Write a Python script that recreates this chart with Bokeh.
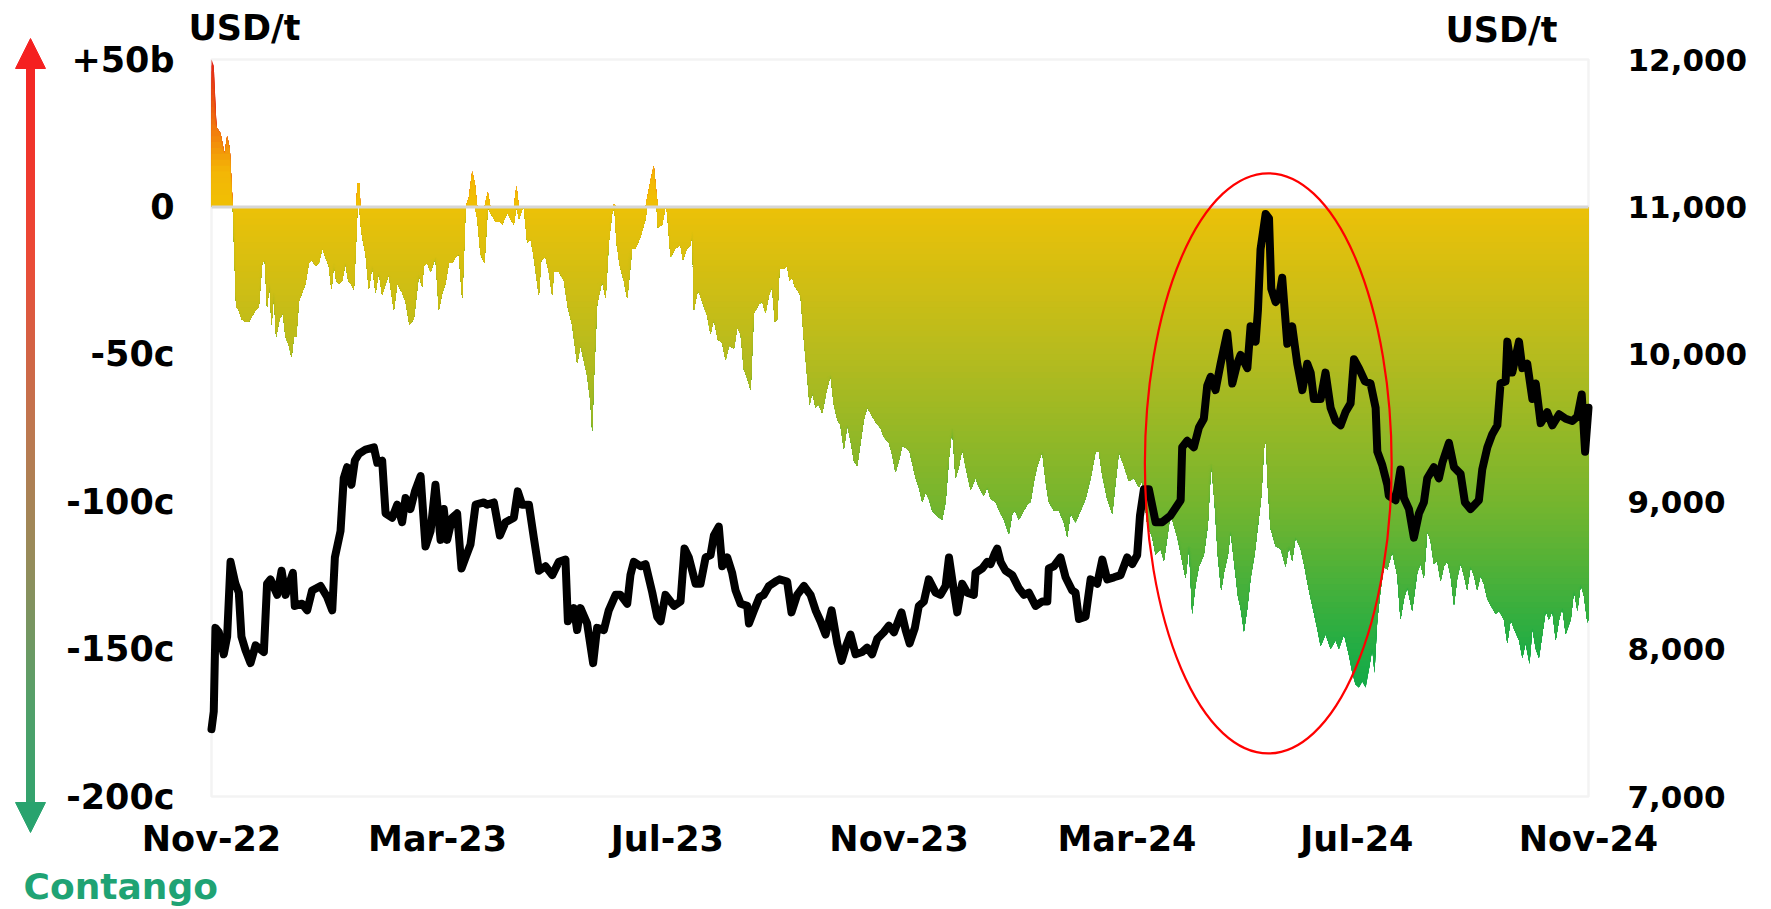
import numpy as np
import pandas as pd
from bokeh.plotting import figure
from bokeh.models import (Range1d, LinearAxis, FixedTicker, DatetimeTickFormatter,
                          BoxAnnotation, Label, Arrow, NormalHead)
from bokeh.embed import file_html
from bokeh.resources import INLINE

# ---------------------------------------------------------------- data
# Day offsets are counted from 1 Nov 2022.
START = pd.Timestamp("2022-11-01")
END = pd.Timestamp("2024-11-01")

# LME cash-to-3-month spread (cents; + backwardation, - contango)
spread_days = [
    0, 1.2, 2.7, 4.8, 6.9, 8.3, 9.7, 11.3,
    13.1, 14.5, 15.9, 18.0, 19.8, 21.6, 23.4, 25.1, 26.9, 28.3, 29.5, 30.8, 31.9, 33.1, 34.3, 36.1,
    37.9, 39.3, 41.1, 42.5, 43.7, 45.0, 46.4, 48.1, 49.9, 51.7, 53.4, 55.2, 57.0, 58.8, 60.5, 62.3,
    63.7, 65.0, 66.2, 67.6, 69.4, 71.1, 72.6, 74.0, 75.6, 76.8, 77.5, 78.6, 79.0, 80.0, 81.8, 83.5,
    85.3, 87.1, 88.8, 90.6, 92.4, 94.1, 95.9, 96.8, 98.6, 101.2, 103.0, 105.1, 107.4, 110.1, 111.8,
    112.7, 114.5, 116.3, 118.9, 120.7, 122.5, 124.2, 126.0, 127.8, 129.6, 131.3, 133.1, 134.0, 134.9,
    136.6, 138.4, 139.8, 141.1, 142.8, 144.9,
    146.7, 148.1, 150.8, 153.4, 154.3, 157.0, 159.6, 160.5, 161.9, 163.2, 164.9, 165.8, 167.6, 169.4,
    171.1, 173.8, 175.0, 177.3, 179.1, 180.9, 181.7, 184.4, 187.1, 189.2, 191.5, 194.1, 195.9, 199.4,
    201.2, 202.1, 203.0, 204.7, 207.4, 209.2, 210.9, 212.7, 213.9, 215.0, 216.8, 218.9, 220.7, 223.3,
    225.1, 227.8, 230.4, 231.3, 233.1, 234.8, 236.3, 237.0, 239.3, 241.0, 241.9, 243.7, 246.3, 249.0,
    250.2, 252.5, 254.3, 255.2, 256.1, 258.2, 260.5, 263.2, 264.9, 266.7, 268.8, 271.1, 272.9, 274.7,
    277.3, 279.1, 280.9, 282.6, 284.4, 286.2, 287.9,
    290.6, 292.3, 294.1, 295.9, 297.6, 299.1, 300.3, 301.5, 303.8, 305.6, 306.9, 308.3, 309.7, 310.9,
    312.7, 314.5, 316.2, 317.5, 318.9, 320.7, 322.4, 324.2, 326.3, 328.6, 330.4, 332.2, 333.9, 335.7,
    337.5, 339.2, 341.0, 342.8, 344.5, 346.3, 348.1, 349.9, 352.5, 355.2, 356.9, 359.6, 361.4, 363.1,
    364.9, 366.7, 369.3, 370.6, 373.8, 375.5, 377.3, 379.1, 380.8, 382.6, 385.3, 387.9, 389.7, 391.5,
    393.2, 395.0, 396.8, 398.5, 400.3, 403.0, 405.6, 407.4, 410.0, 411.8, 413.6, 416.2, 418.9, 420.7,
    423.3, 425.1, 426.5, 428.6, 430.4, 433.0, 434.8,
    436.6, 438.3, 441.0, 442.8, 444.5, 447.2, 449.8, 452.5, 454.3, 456.0, 458.7, 461.4, 464.0, 466.7,
    469.3, 471.1, 472.9, 475.5, 478.2, 480.0, 481.7, 484.4, 487.0, 489.7, 492.3, 494.1, 496.8, 499.4,
    501.2, 503.8, 505.6, 507.4, 509.1, 510.9, 512.7, 515.3, 517.1, 518.9, 520.6, 522.4, 524.2, 526.8,
    528.9, 530.7, 532.5, 534.2, 536.0, 537.5, 539.6, 541.0, 542.8, 544.9, 546.3, 548.1, 549.9, 551.6,
    553.7, 556.1, 557.3, 558.7, 559.8, 560.8, 562.2, 564.9, 567.6, 570.2, 572.0, 573.7, 575.5, 578.2,
    579.9,
    582.6, 584.3, 587.0, 588.8, 591.4, 594.1, 596.7, 598.5, 601.2, 603.8, 605.6, 607.3, 609.1, 610.9,
    612.7, 614.4, 616.2, 617.4, 618.9, 620.6, 622.4, 624.2, 626.8, 629.5, 631.2, 633.0, 634.8, 637.4,
    640.1, 641.8, 643.6, 645.4, 647.1, 648.9, 650.7, 652.5, 654.2, 656.0, 657.8, 659.6, 661.3, 663.1,
    664.9, 666.6, 668.4, 670.2, 671.9, 673.7, 675.5, 677.3, 679.0, 681.7, 683.5, 686.1, 687.9, 689.7,
    691.4, 694.1, 695.9, 697.6, 699.7, 701.2, 703.0, 704.7, 706.5, 708.3, 710.0, 711.8, 713.6, 715.4,
    717.1, 718.9, 721.6, 723.3, 725.1, 726.9, 728.6, 730.4, 731.0,
]
spread_cents = [
    50, 48, 27, 25, 18, 24, 20, 0,
    -34, -35, -38, -39, -39, -37, -35, -34, -19, -18, -34, -26, -40, -29, -44, -38,
    -36, -44, -47, -51, -44, -44, -32, -29, -26, -19, -18, -20, -19, -14, -17, -20,
    -28, -19, -25, -26, -25, -19, -25, -26, -28, -11, 8, 8, -5, -10, -16, -28,
    -20, -29, -22, -30, -26, -23, -31, -35, -26, -29, -32, -40, -38, -23, -27,
    -20, -19, -22, -17, -35, -29, -26, -19, -19, -17, -16, -31, -16, 0,
    3, 12, 8, -4, -16, -19,
    5, -2, -5, -5, -6, -2, -5, -6, 7, -4, -1, 0, -12, -11,
    -17, -30, -18, -17, -22, -30, -22, -22, -25, -34, -40, -53, -47, -57,
    -66, -76, -58, -33, -25, -31, -12, -2, 1, -12, -20, -25, -31, -14,
    -14, -10, -4, 3, 9, 14, 4, -7, -6, 0, -2, -17, -14, -13,
    -18, -14, -13, -8, -35, -28, -32, -37, -43, -38, -45, -46, -52, -47,
    -48, -41, -43, -55, -58, -62, -36,
    -33, -32, -36, -30, -27, -39, -38, -21, -21, -20, -25, -24, -27, -28,
    -30, -45, -57, -67, -63, -68, -67, -70, -63, -57, -67, -72, -74, -82,
    -74, -79, -86, -88, -80, -72, -68, -70, -73, -75, -78, -80, -84, -90,
    -86, -81, -82, -83, -92, -95, -100, -97, -99, -103, -105, -106, -100, -85,
    -75, -92, -88, -82, -88, -96, -92, -95, -98, -95, -99, -100, -104, -106,
    -111, -104, -103, -106, -104, -101, -100,
    -93, -88, -83, -93, -100, -103, -103, -107, -112, -104, -107, -103, -99, -92,
    -83, -83, -91, -99, -104, -93, -83, -88, -93, -92, -95, -93, -108, -112,
    -118, -116, -120, -112, -104, -108, -112, -120, -126, -115, -138, -128, -122, -118,
    -108, -87, -100, -118, -130, -124, -118, -110, -120, -132, -136, -144, -136, -126,
    -118, -105, -98, -82, -79, -95, -109, -115, -116, -122, -115, -120, -112, -116,
    -121,
    -130, -135, -143, -149, -145, -150, -147, -150, -145, -152, -158, -162, -163, -161,
    -163, -157, -150, -158, -140, -130, -122, -123, -117, -125, -140, -133, -129, -137,
    -124, -121, -126, -110, -113, -121, -120, -127, -122, -120, -125, -135, -126, -121,
    -125, -130, -122, -125, -130, -125, -128, -133, -135, -138, -137, -140, -148, -140,
    -143, -147, -153, -148, -155, -143, -150, -153, -145, -137, -140, -137, -147, -140,
    -136, -145, -140, -130, -137, -128, -132, -141, -140,
]

# LME 3-month copper price (USD/t)
price_days = [
    0, 1.2, 2.1, 3.9, 6.5, 8.3, 10.1, 12.7, 14.5, 15.9, 18.0, 20.7, 23.4, 27.8, 29.5, 31.3, 34.9,
    37.2, 39.3, 43.2, 44.2, 48.1, 50.8, 53.4, 57.9, 61.4, 64.1, 65.5, 68.5, 70.2, 72.0, 74.3, 76.1,
    78.2, 81.8, 86.2, 88.0, 90.6, 92.4, 95.9, 98.6, 101.2, 103.0, 105.6, 108.0, 111.0, 113.6, 116.3,
    118.9, 121.6, 123.3, 125.1, 127.8, 130.4, 132.7, 134.9, 137.5, 140.2, 144.6,
    146.3, 149.9, 153.1, 156.1, 160.5, 162.6, 164.9, 168.5, 171.1, 173.8, 177.3, 180.9, 184.4, 187.9,
    189.2, 192.4, 194.1, 195.9, 199.4, 202.6, 204.7, 208.3, 210.9, 214.5, 217.1, 220.7, 222.4, 224.2,
    227.8, 230.4, 234.0, 236.6, 238.4, 241.0, 243.7, 245.5, 249.0, 251.1, 253.4, 257.0, 259.6, 262.3,
    264.9, 266.7, 269.3, 271.1, 273.8, 276.4, 278.2, 280.9, 284.4, 285.3, 288.0,
    290.9, 293.2, 295.9, 299.4, 301.5, 305.6, 307.9, 310.9, 314.5, 318.0, 320.7, 323.3, 326.0, 329.2,
    332.2, 334.5, 337.0, 339.2, 341.9, 345.4, 348.1, 350.7, 353.4, 356.9, 359.6, 362.3, 366.3, 368.5,
    370.6, 373.4, 375.5, 378.2, 380.8, 384.4, 387.0, 389.7, 391.5, 393.2, 395.9, 398.5, 401.2, 404.7,
    405.6, 409.2, 411.8, 413.6, 415.9, 417.1, 418.9, 421.5, 425.1, 428.6, 431.3, 433.9,
    437.5, 441.0, 443.7, 444.5, 447.2, 450.7, 453.4, 456.9, 458.7, 460.5, 464.0, 466.7, 470.2, 472.9,
    475.5, 479.1, 482.6, 486.1, 488.8, 491.4, 492.9, 495.0, 497.6, 501.2, 504.7, 509.1, 514.5, 515.3,
    518.0, 521.5, 524.2, 526.8, 528.6, 530.4, 533.0, 535.7, 539.2, 541.9, 544.5, 546.3, 549.9, 551.6,
    554.3, 555.5, 556.9, 559.6, 561.4, 562.6, 564.9, 566.7, 568.4, 571.1, 573.7, 576.4, 579.1,
    581.7, 583.5, 585.2, 588.8, 591.4, 594.1, 596.7, 599.4, 602.0, 604.7, 606.5, 609.1, 612.3, 615.3,
    618.0, 618.9, 621.5, 624.2, 625.0, 628.6, 631.2, 633.0, 635.7, 638.3, 641.0, 643.6, 645.4, 648.9,
    651.6, 653.4, 656.9, 659.6, 663.1, 665.4, 668.4, 672.8, 674.6, 677.3, 679.9, 682.6, 684.3, 687.0,
    687.9, 690.5, 694.1, 695.9, 698.5, 701.2, 703.0, 705.6, 709.1, 711.8, 715.4, 718.9, 722.4, 725.1,
    727.4, 729.2, 731.0,
]
price_usd = [
    7457, 7576, 8144, 8114, 7965, 8084, 8592, 8443, 8383, 8084, 7995, 7905, 8025, 7980, 8443, 8473, 8368,
    8532, 8368, 8517, 8293, 8308, 8263, 8398, 8428, 8353, 8263, 8622, 8801, 9159, 9234, 9115, 9279,
    9324, 9354, 9369, 9264, 9279, 8921, 8891, 8980, 8861, 9025, 8950, 9070, 9174, 8696, 8801,
    9115, 8741, 8950, 8741, 8891, 8921, 8547, 8622, 8711, 8980, 8995,
    8980, 8995, 8771, 8861, 8891, 9070, 8980, 8980, 8756, 8532, 8562, 8502, 8592, 8607,
    8189, 8278, 8129, 8278, 8174, 7905, 8144, 8129, 8263, 8368, 8368, 8308, 8502, 8592,
    8562, 8577, 8383, 8219, 8189, 8368, 8323, 8293, 8323, 8682, 8622, 8443, 8443, 8622,
    8637, 8771, 8831, 8562, 8622, 8517, 8398, 8308, 8293, 8174, 8263,
    8353, 8368, 8428, 8458, 8473, 8458, 8249, 8368, 8428, 8368, 8263, 8189, 8099, 8263,
    8039, 7920, 8025, 8099, 7965, 7980, 8010, 7965, 8069, 8114, 8159, 8114, 8249, 8129,
    8039, 8144, 8293, 8323, 8473, 8383, 8368, 8428, 8622, 8473, 8249, 8443, 8383, 8368,
    8517, 8547, 8592, 8577, 8652, 8682, 8592, 8532, 8502, 8413, 8368, 8383,
    8293, 8323, 8323, 8547, 8562, 8622, 8487, 8398, 8383, 8204, 8219, 8473, 8443, 8607,
    8473, 8487, 8502, 8622, 8577, 8637, 8906, 9085, 9085, 8861, 8861, 8906, 9010, 9369,
    9413, 9369, 9503, 9563, 9787, 9847, 9757, 9936, 10145, 9802, 9936, 9996, 9906, 10190,
    10086, 10295, 10713, 10952, 10922, 10444, 10354, 10384, 10519, 10071, 10190, 9936, 9757,
    9936, 9876, 9697, 9697, 9876, 9637, 9548, 9518, 9608, 9667, 9966, 9906, 9817, 9802,
    9637, 9339, 9249, 9115, 9040, 9010, 9219, 9025, 8950, 8756, 8921, 8995, 9159, 9234,
    9159, 9264, 9399, 9234, 9189, 8995, 8950, 9010, 9219, 9369, 9458, 9518, 9802, 9817,
    10086, 9876, 10086, 9906, 9936, 9697, 9802, 9533, 9608, 9518, 9593, 9563, 9548, 9578,
    9727, 9339, 9637,
]

x_tick_dates = ["2022-11-01", "2023-03-01", "2023-07-01", "2023-11-01",
                "2024-03-01", "2024-07-01", "2024-11-01"]
spread_ticks = [-200, -150, -100, -50, 0, 50]
spread_tick_labels = ["-200c", "-150c", "-100c", "-50c", "0", "+50b"]
price_ticks = [7000, 8000, 9000, 10000, 11000, 12000]
price_tick_labels = ["7,000", "8,000", "9,000", "10,000", "11,000", "12,000"]
SPREAD_MIN, SPREAD_MAX = -200, 50
PRICE_MIN, PRICE_MAX = 7000, 12000

# highlighted period: centre date, centre spread, width (days), height (cents)
HILITE_CENTER = "2024-05-15"
HILITE_Y = -87
HILITE_DAYS = 131
HILITE_HEIGHT = 197

# ---------------------------------------------------------------- layout
# The canvas is one big frame; the plot box sits inside it at these pixel
# edges, so the margin decorations can be drawn without being clipped.
W, H = 1771, 909
BOX_L, BOX_R, BOX_T, BOX_B = 211, 1588, 59, 796
FONT = "DejaVu Sans"
GREY = "#D6D6D6"
MS_PER_DAY = 86400000.0

t0 = START.value / 1e6
t1 = END.value / 1e6
ms_per_px = (t1 - t0) / (BOX_R - BOX_L)
c_per_px = (SPREAD_MAX - SPREAD_MIN) / (BOX_B - BOX_T)
usd_per_px = (PRICE_MAX - PRICE_MIN) / (BOX_B - BOX_T)

x_range = Range1d(t0 - BOX_L * ms_per_px, t1 + (W - BOX_R) * ms_per_px)
y_range = Range1d(SPREAD_MIN - (H - BOX_B) * c_per_px, SPREAD_MAX + BOX_T * c_per_px)
price_range = Range1d(PRICE_MIN - (H - BOX_B) * usd_per_px, PRICE_MAX + BOX_T * usd_per_px)

spread_x = START + pd.to_timedelta(spread_days, unit="D")
price_x = START + pd.to_timedelta(price_days, unit="D")
spread = np.array(spread_cents, dtype=float)

p = figure(width=W, height=H, x_axis_type="datetime",
           x_range=x_range, y_range=y_range,
           output_backend="svg", toolbar_location=None,
           min_border_left=0, min_border_right=0, min_border_top=0, min_border_bottom=0)
p.background_fill_color = "white"
p.border_fill_color = "white"
p.outline_line_color = None
p.xgrid.visible = False
p.ygrid.visible = False

p.extra_y_ranges = {"price": price_range}
right_axis = LinearAxis(y_range_name="price")
p.add_layout(right_axis, "right")


def style_axis(ax, standoff, size):
    ax.axis_line_color = None
    ax.major_tick_line_color = None
    ax.minor_tick_line_color = None
    ax.major_tick_in = 0
    ax.major_tick_out = 0
    ax.minor_tick_out = 0
    ax.major_label_text_font = FONT
    ax.major_label_text_font_style = "bold"
    ax.major_label_text_font_size = size
    ax.major_label_text_color = "black"
    ax.major_label_standoff = standoff


xa = p.xaxis[0]
xa.fixed_location = SPREAD_MIN
xa.ticker = FixedTicker(ticks=[pd.Timestamp(d).value / 1e6 for d in x_tick_dates])
fmt = "%b-%y"
xa.formatter = DatetimeTickFormatter(microseconds=fmt, milliseconds=fmt, seconds=fmt, minsec=fmt,
                                     minutes=fmt, hourmin=fmt, hours=fmt, days=fmt,
                                     months=fmt, years=fmt)
style_axis(xa, 22, "35px")

ya = p.yaxis[0]
ya.fixed_location = t0
ya.ticker = FixedTicker(ticks=spread_ticks)
ya.major_label_overrides = dict(zip(spread_ticks, spread_tick_labels))
style_axis(ya, 37, "35px")

right_axis.fixed_location = t1
right_axis.ticker = FixedTicker(ticks=price_ticks)
right_axis.major_label_overrides = dict(zip(price_ticks, price_tick_labels))
style_axis(right_axis, 39, "31px")


# ---------------------------------------------------------------- spread area, vertical gradient
def interp_color(v, stops):
    vals = [s[0] for s in stops]
    out = [int(round(np.interp(v, vals, [s[1][k] for s in stops]))) for k in range(3)]
    return "#%02x%02x%02x" % tuple(out)


neg_stops = [(-170, (12, 168, 74)), (-150, (34, 173, 68)), (-100, (118, 181, 46)),
             (-50, (182, 187, 30)), (0, (236, 193, 8))]
pos_stops = [(0, (240, 192, 4)), (12, (243, 182, 6)), (25, (242, 128, 12)), (50, (224, 34, 22))]

STEP = 2.0
neg_part = np.minimum(spread, 0)
for level in np.arange(-170, 0, STEP):
    p.varea(x=spread_x, y1=0, y2=np.maximum(neg_part, level),
            fill_color=interp_color(level + STEP / 2, neg_stops), fill_alpha=1)
pos_part = np.maximum(spread, 0)
for level in np.arange(50, 0, -STEP):
    p.varea(x=spread_x, y1=0, y2=np.minimum(pos_part, level),
            fill_color=interp_color(level - STEP / 2, pos_stops), fill_alpha=1)

# zero line and plot box
p.line(x=[START, END], y=[0, 0], line_color=GREY, line_width=3)
p.add_layout(BoxAnnotation(left=t0, right=t1, bottom=SPREAD_MIN, top=SPREAD_MAX,
                           fill_color=None, fill_alpha=0, line_color=GREY, line_width=2.5,
                           level="underlay"))

# ---------------------------------------------------------------- copper price
p.line(price_x, price_usd, y_range_name="price", line_color="black",
       line_width=8, line_join="round", line_cap="round")

# ---------------------------------------------------------------- highlight ellipse
p.ellipse(x=[pd.Timestamp(HILITE_CENTER)], y=[HILITE_Y],
          width=[HILITE_DAYS * MS_PER_DAY], height=[HILITE_HEIGHT],
          fill_color=None, line_color="#FF0000", line_width=2.2)


# ---------------------------------------------------------------- margin decorations
def sx(cx):
    return cx


def sy(cy):
    return H - cy


arrow_stops = [(40, (245, 32, 32)), (260, (235, 75, 55)), (430, (190, 120, 80)),
               (560, (150, 140, 90)), (700, (85, 160, 105)), (832, (40, 163, 110))]
shaft = np.linspace(60, 810, 76)
for a, b in zip(shaft[:-1], shaft[1:]):
    col = interp_color((a + b) / 2, arrow_stops)
    p.add_layout(Arrow(start=None, end=None, x_start=sx(30), y_start=sy(a - 0.6),
                       x_end=sx(30), y_end=sy(b + 0.6), start_units="screen", end_units="screen",
                       line_color=col, line_width=9, line_cap="butt"))
p.add_layout(Arrow(end=NormalHead(size=30, fill_color="#F52020", line_color="#F52020", line_width=1),
                   x_start=sx(30), y_start=sy(80), x_end=sx(30), y_end=sy(38),
                   start_units="screen", end_units="screen", line_color=None))
p.add_layout(Arrow(end=NormalHead(size=30, fill_color="#28A36E", line_color="#28A36E", line_width=1),
                   x_start=sx(30), y_start=sy(790), x_end=sx(30), y_end=sy(832),
                   start_units="screen", end_units="screen", line_color=None))

label_style = dict(x_units="screen", y_units="screen", text_font=FONT,
                   text_font_style="bold", text_baseline="middle")
p.add_layout(Label(x=sx(244), y=sy(27), text="USD/t", text_align="center",
                   text_font_size="35px", text_color="black", **label_style))
p.add_layout(Label(x=sx(1501), y=sy(29), text="USD/t", text_align="center",
                   text_font_size="35px", text_color="black", **label_style))
p.add_layout(Label(x=sx(23), y=sy(886), text="Contango", text_align="left",
                   text_font_size="36px", text_color="#1FA374", **label_style))

open("out.html", "w").write(file_html(p, INLINE))
